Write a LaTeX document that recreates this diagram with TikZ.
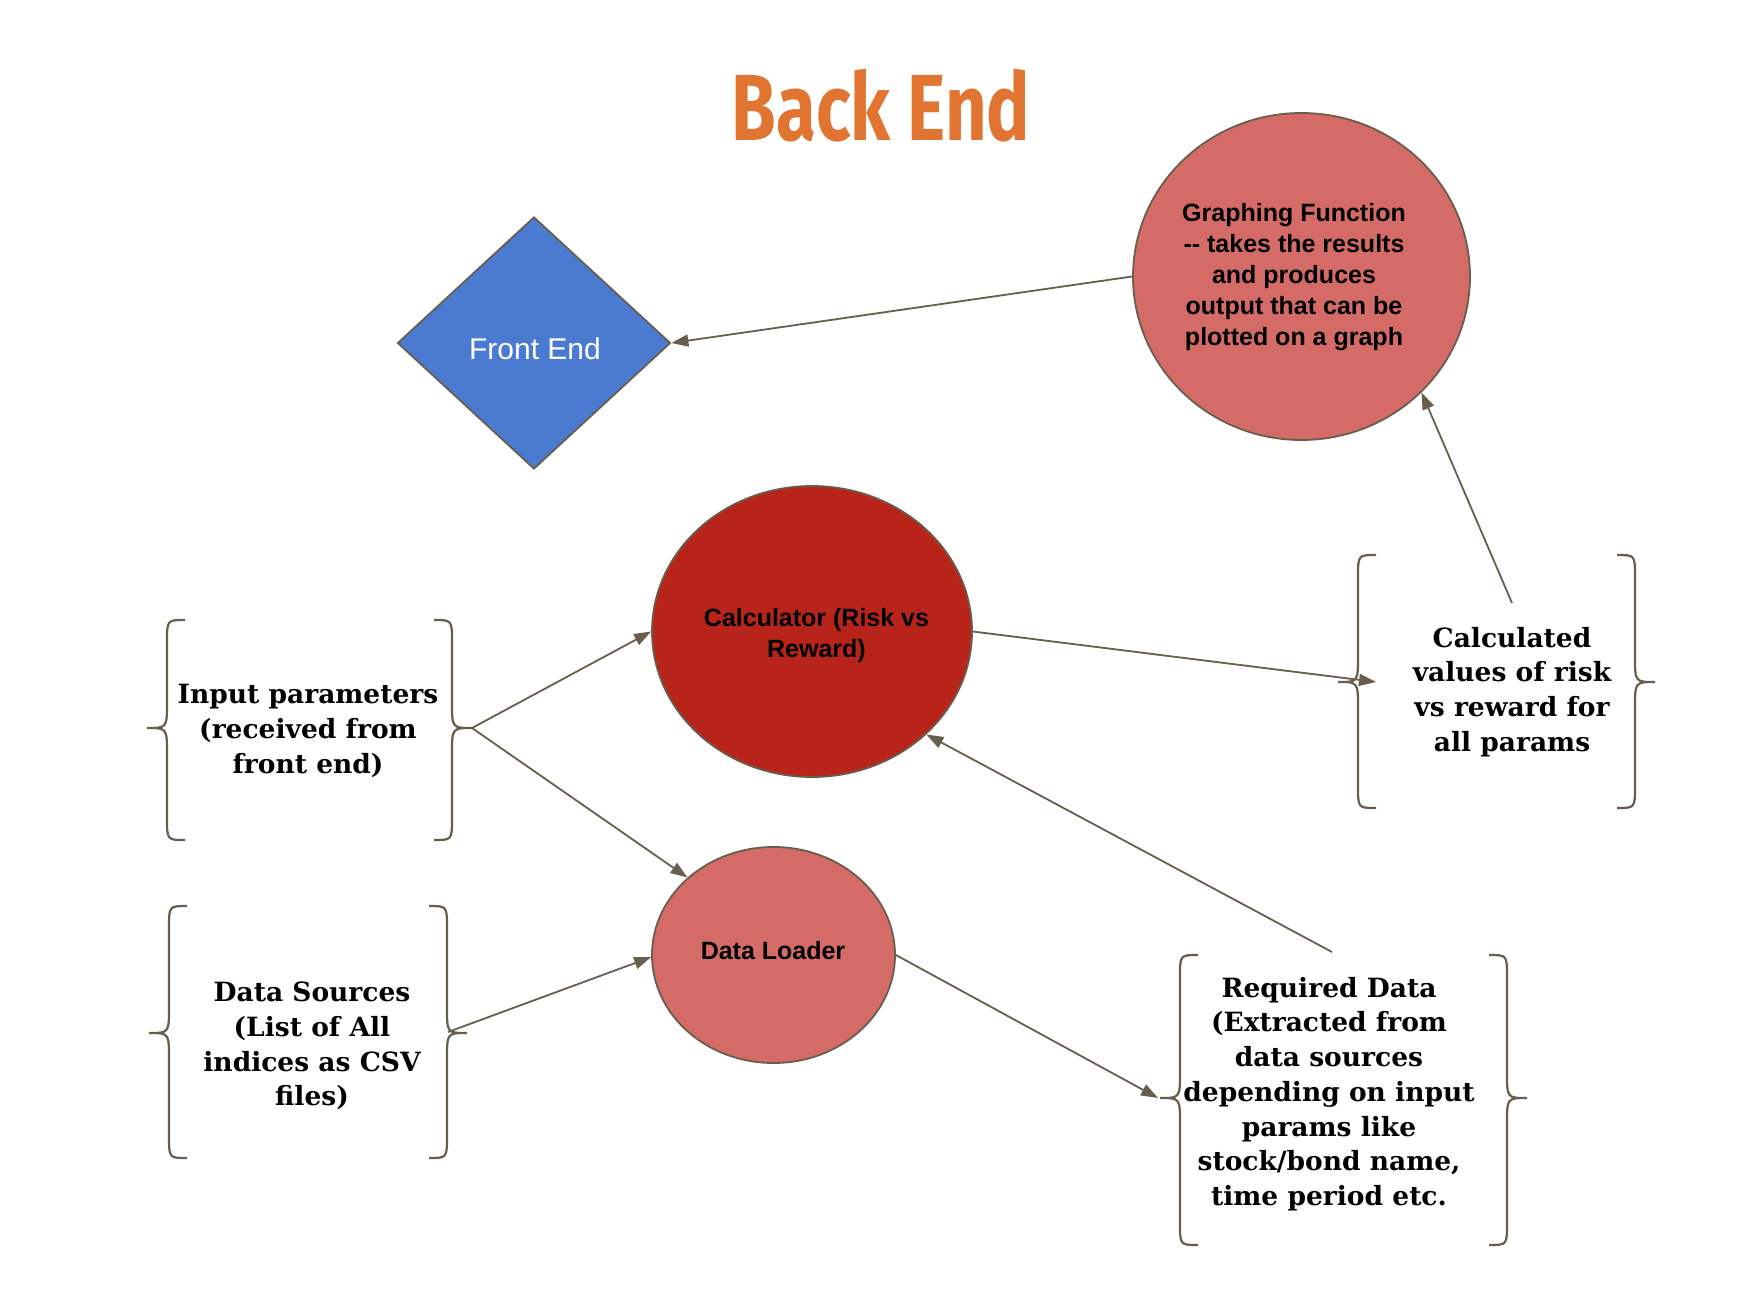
\documentclass[tikz,border=0pt]{standalone}
\usepackage{fontspec}
\usetikzlibrary{shapes.geometric,arrows.meta}
\newfontfamily\titlefont{Fira Sans}
\newfontfamily\arialfont{Liberation Sans}
\newfontfamily\seriffont{DejaVu Serif}
\definecolor{titleor}{HTML}{E07430}
\definecolor{pinkred}{HTML}{D46B67}
\definecolor{darkred}{HTML}{B82419}
\definecolor{feblue}{HTML}{4A7BD1}
\definecolor{edgec}{HTML}{675E4E}
\tikzset{
  blob/.style={ellipse, draw=edgec, line width=1.8pt, inner sep=0pt},
  blobtext/.style={align=center, inner sep=0pt, text=black,
    font=\arialfont\bfseries\fontsize{25}{31}\selectfont},
  bracetext/.style={align=center, inner sep=0pt, font=\seriffont\bfseries\fontsize{26.5}{34.7}\selectfont},
  bracepath/.style={draw=edgec, line width=2.2pt},
  conn/.style={draw=edgec, line width=1.8pt, -{Triangle[length=17pt,width=12pt]}},
}
\newcommand\mybraces[5]{%
  \draw[bracepath] ({#1+18},#3) .. controls (#1,#3) .. (#1,{#3+22}) -- (#1,{#5-26})
     .. controls (#1,#5) .. ({#1-20},#5) .. controls (#1,#5) .. (#1,{#5+26})
     -- (#1,{#4-22}) .. controls (#1,#4) .. ({#1+18},#4);
  \draw[bracepath] ({#2-18},#3) .. controls (#2,#3) .. (#2,{#3+22}) -- (#2,{#5-26})
     .. controls (#2,#5) .. ({#2+20},#5) .. controls (#2,#5) .. (#2,{#5+26})
     -- (#2,{#4-22}) .. controls (#2,#4) .. ({#2-18},#4);
}
\begin{document}
\begin{tikzpicture}[x=1pt,y=-1pt]
\useasboundingbox[fill=white] (0,0) rectangle (1754,1308);

% title
\node[text=titleor, inner sep=0pt, font=\titlefont\bfseries\fontsize{94}{100}\selectfont] (title) at (881,106) {\scalebox{0.77}[1]{Back End}};

% main shapes
\node[diamond, draw=edgec, line width=1.8pt, fill=feblue, minimum width=273pt, minimum height=252pt, inner sep=0pt] (fe) at (534,343) {};
\node[text=white, inner sep=0pt, font=\arialfont\fontsize{30}{34}\selectfont] (fet) at (535,349) {Front End};

\node[blob, fill=pinkred, minimum width=337pt, minimum height=327pt] (gf) at (1301.5,276.5) {};
\node[blobtext] (gft) at (1294,277)
  {Graphing Function\\-- takes the results\\and produces\\output that can be\\plotted on a graph};

\node[blob, fill=darkred, minimum width=320pt, minimum height=291pt] (calc) at (812,631.5) {};
\node[blobtext] (calct) at (816.5,636) {Calculator (Risk vs\\Reward)};

\node[blob, fill=pinkred, minimum width=243pt, minimum height=216pt] (dl) at (773.5,955) {};
\node[blobtext] (dlt) at (773,951) {Data Loader};

% brace boxes
\mybraces{167}{452}{620}{840}{728}
\node[bracetext] (ip) at (308,731) {Input parameters\\(received from\\front end)};
\mybraces{1358}{1635}{555}{808}{682}
\node[bracetext] (cv) at (1512,692) {Calculated\\values of risk\\vs reward for\\all params};
\mybraces{169}{447}{906}{1158}{1033}
\node[bracetext] (ds) at (312,1046) {Data Sources\\(List of All\\indices as CSV\\files)};
\mybraces{1180}{1507}{955}{1245}{1098}
\node[bracetext] (rd) at (1329,1094) {Required Data\\(Extracted from\\data sources\\depending on input\\params like\\stock/bond name,\\time period etc.};

% connector end points
\coordinate (ipR) at (472,728);
\coordinate (dsR) at (448,1032);
\coordinate (cvIn) at (1376,682);
\coordinate (cvTop) at (1512,603);
\coordinate (rdTop) at (1332,952);
\coordinate (rdL) at (1158,1098);

% connectors
\draw[conn] (gf.west) -- (fe.east);
\draw[conn] (ipR) -- (calc.west);
\draw[conn] (ipR) -- (dl.138);
\draw[conn] (dsR) -- (dl.181);
\draw[conn] (calc.east) -- (cvIn);
\draw[conn] (cvTop) -- (gf.-44);
\draw[conn] (rdTop) -- (calc.-42.6);
\draw[conn] (dl.east) -- (rdL);
\end{tikzpicture}
\end{document}
